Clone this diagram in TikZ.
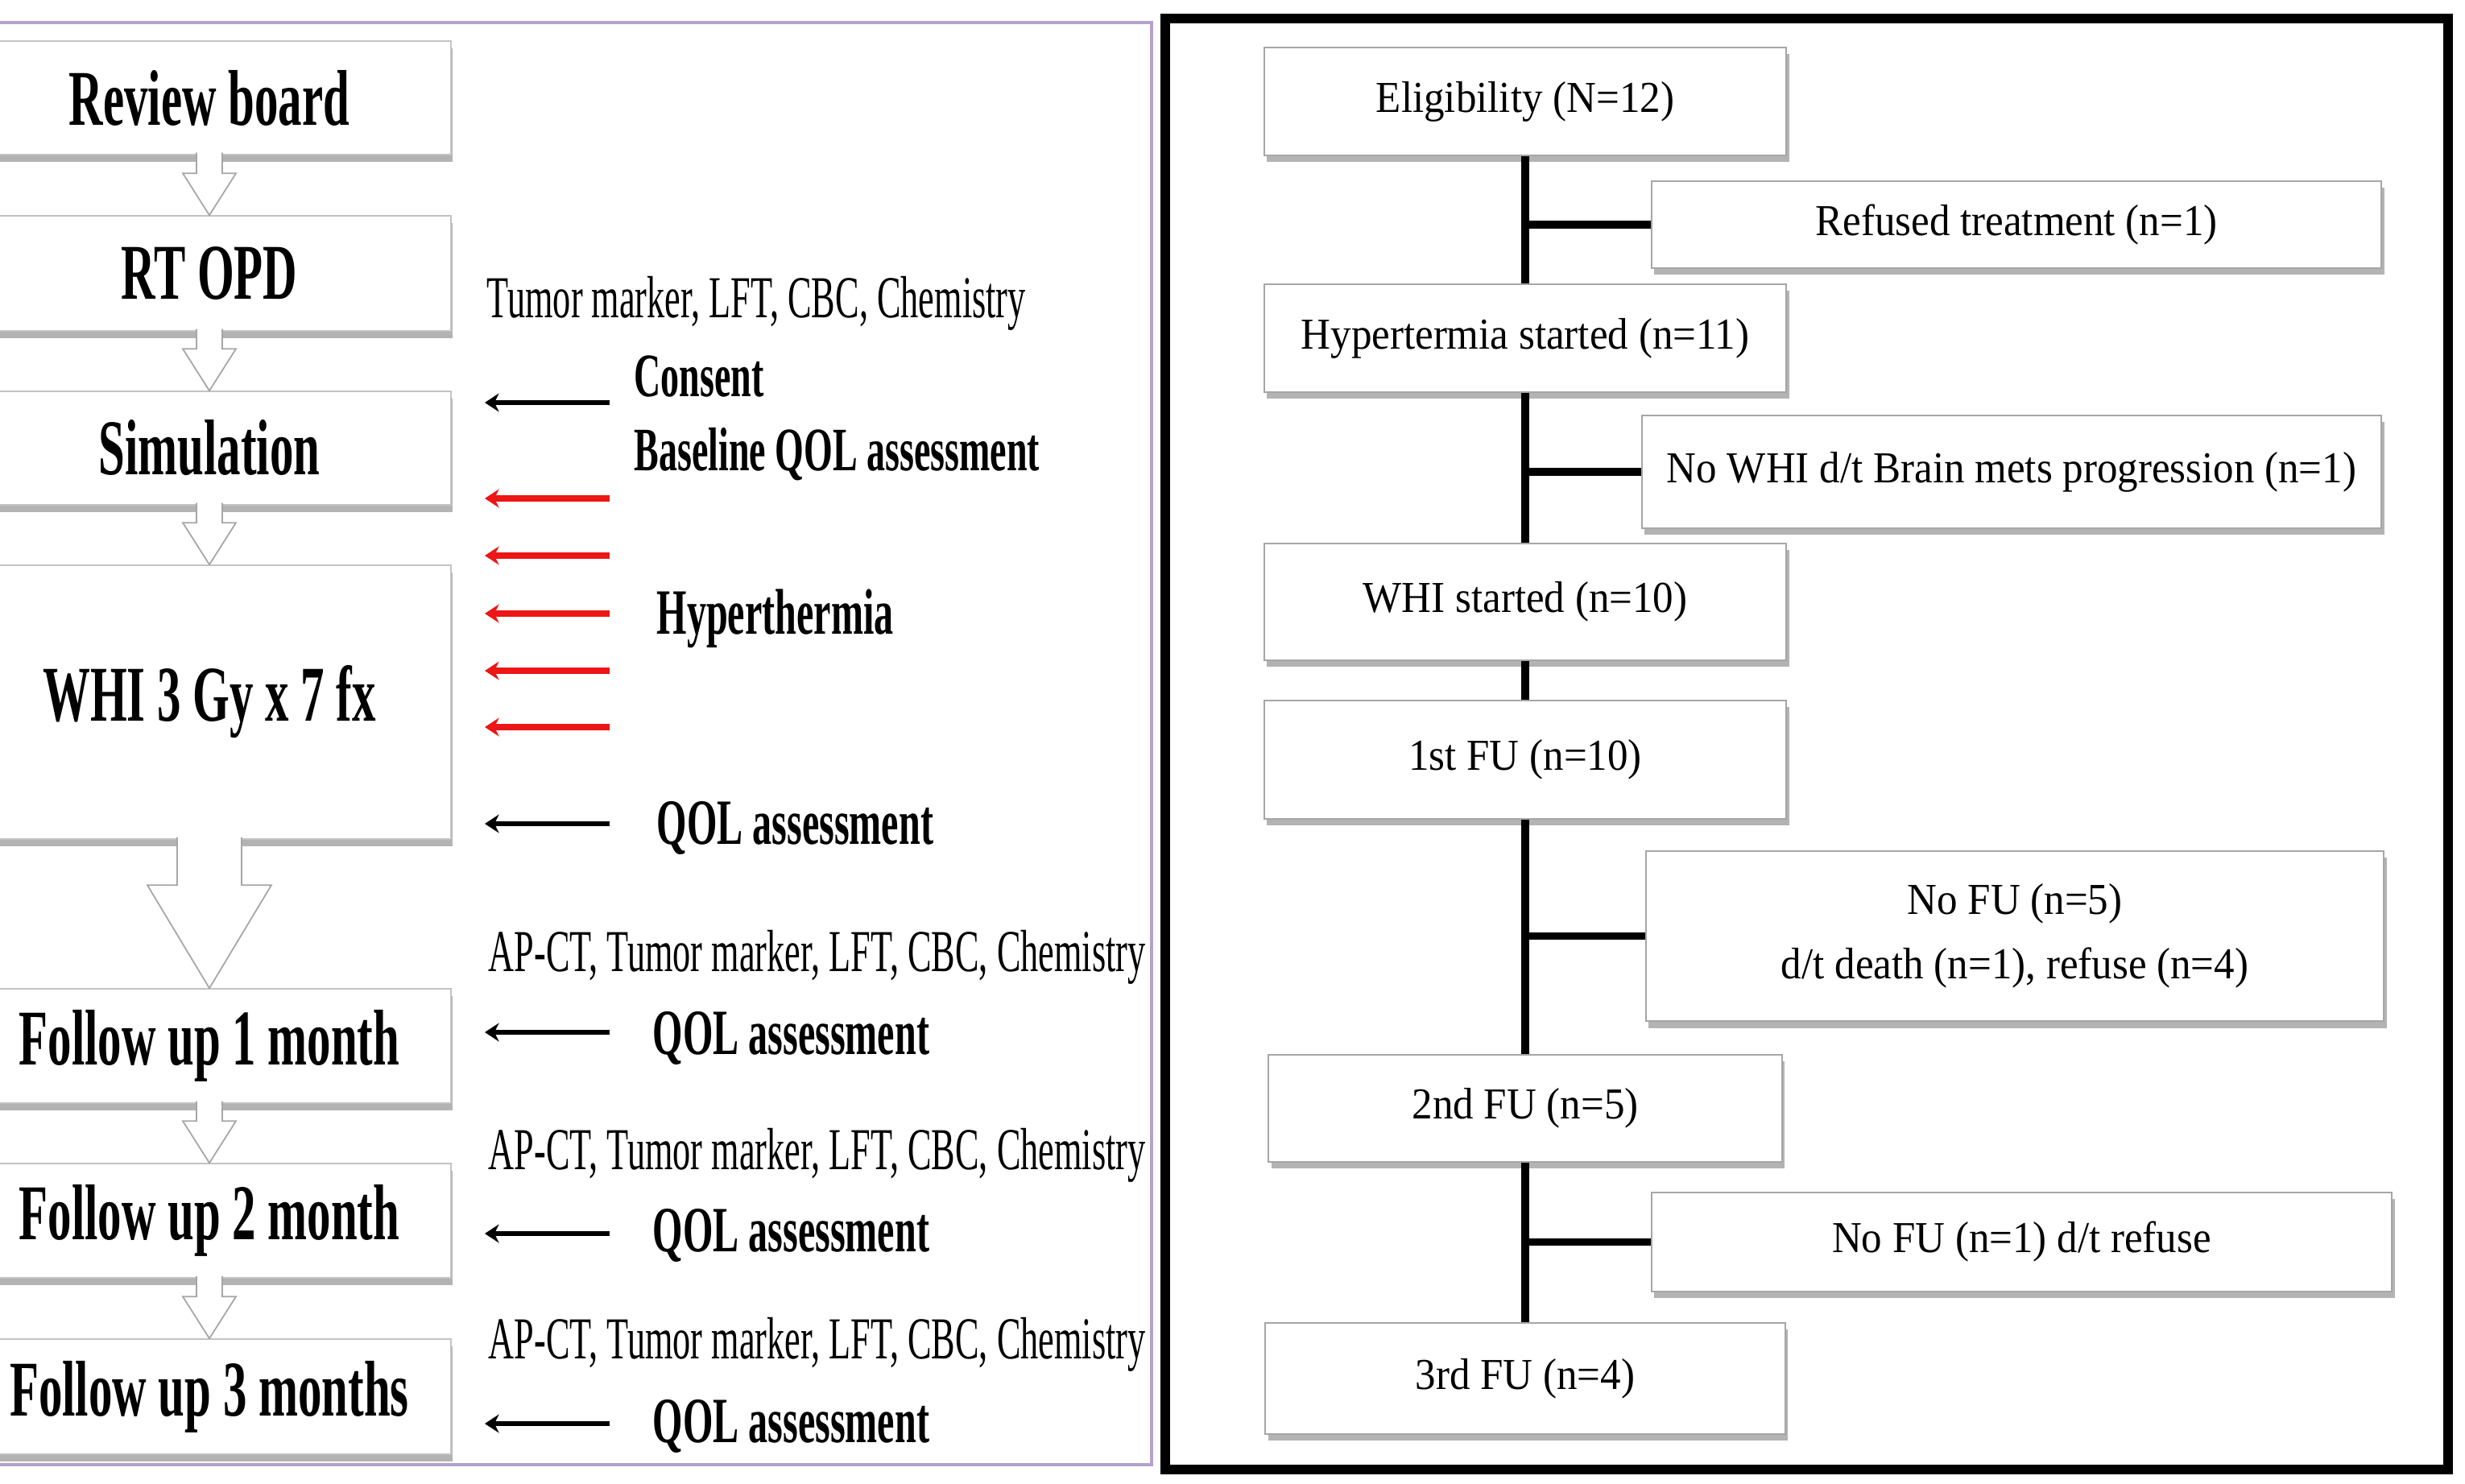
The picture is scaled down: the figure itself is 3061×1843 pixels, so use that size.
\documentclass[tikz,border=0pt]{standalone}
\usepackage{fontspec}
\setmainfont{Liberation Serif}
\newfontfamily\schemafont{Liberation Serif}[FakeStretch=0.6]
\newfontfamily\flowfont{Liberation Serif}[FakeStretch=0.93]
\usetikzlibrary{positioning,arrows.meta,calc,shadows}

\definecolor{framepurple}{RGB}{178,162,204}
\definecolor{boxline}{RGB}{195,195,195}
\definecolor{hotred}{RGB}{236,22,22}

\tikzset{
  stepbox/.style={draw=boxline, line width=0.4pt, fill=white, minimum width=6cm, inner sep=0pt,
    drop shadow={shadow xshift=0.6pt, shadow yshift=-2.6pt, opacity=0.6},
    font=\schemafont\bfseries\fontsize{27.9pt}{30pt}\selectfont},
  hollow/.style={draw=gray!70, fill=white, line width=0.5pt, line join=miter},
  note/.style={anchor=base west, inner sep=0pt, font=\schemafont\fontsize{21pt}{24pt}\selectfont},
  cue/.style={anchor=base west, inner sep=0pt, font=\schemafont\bfseries\fontsize{22.8pt}{25pt}\selectfont},
  smallcue/.style={cue, font=\schemafont\bfseries\fontsize{21.8pt}{25pt}\selectfont},
  flowbox/.style={draw=gray!70, line width=0.6pt, fill=white, align=center, inner sep=0pt,
    drop shadow={shadow xshift=1pt, shadow yshift=-2.4pt, opacity=0.6},
    font=\flowfont\fontsize{15.6pt}{22.8pt}\selectfont},
  trunk/.style={line width=2.6pt},
  pointer/.style={line width=1.6pt, -{Stealth[length=5pt,width=6.5pt]}},
  heat/.style={pointer, draw=hotred, line width=2.1pt},
}

% hollow down arrow: from, to, shaft half width, head half width, head length
\newcommand{\blockarrow}[5]{%
  \draw[hollow] ($(#1.south)+(-#3,-3)$) -- ($(#2.north)+(-#3,-#5)$) -- ($(#2.north)+(-#4,-#5)$)
    -- (#2.north) -- ($(#2.north)+(#4,-#5)$) -- ($(#2.north)+(#3,-#5)$) -- ($(#1.south)+(#3,-3)$);}

\begin{document}
\begin{tikzpicture}[x=0.01cm,y=-0.01cm]
\useasboundingbox (0,0) rectangle (3061,1843);
\clip (0,0) rectangle (3061,1843);

% study schema
\draw[framepurple, line width=1.2pt] (-10,28) rectangle (1430,1819);

\node[stepbox, minimum height=1.41cm] (board) at (260,121.5) {Review board};
\node[stepbox, minimum height=1.43cm] (opd) at (260,339.5) {RT OPD};
\node[stepbox, minimum height=1.41cm] (sim) at (260,556.5) {Simulation};
\node[stepbox, minimum height=3.40cm] (whi) at (260,872) {WHI 3 Gy x 7 fx};
\node[stepbox, minimum height=1.42cm] (fu1) at (260,1299) {Follow up 1 month};
\node[stepbox, minimum height=1.42cm] (fu2) at (260,1516) {Follow up 2 month};
\node[stepbox, minimum height=1.43cm] (fu3) at (260,1734.5) {Follow up 3 months};

\blockarrow{board}{opd}{16}{33}{52}
\blockarrow{opd}{sim}{16}{33}{52}
\blockarrow{sim}{whi}{16}{33}{52}
\blockarrow{whi}{fu1}{40}{77}{128}
\blockarrow{fu1}{fu2}{16}{33}{52}
\blockarrow{fu2}{fu3}{16}{33}{52}

\foreach \y in {500,1023,1282,1532,1768} {
  \coordinate (tail) at (757,\y);
  \coordinate (tip) at (602,\y);
  \draw[pointer] (tail) -- (tip);
}
\foreach \y in {619,690,762,833,903} {
  \coordinate (tail) at (757,\y);
  \coordinate (tip) at (602,\y);
  \draw[heat] (tail) -- (tip);
}

\node[note] (labs0) at (604,395) {Tumor marker, LFT, CBC, Chemistry};
\node[smallcue] (consent) at (787,493) {Consent};
\node[smallcue] (baseqol) at (787,585) {Baseline QOL assessment};
\node[cue] (hyperth) at (815,787) {Hyperthermia};
\node[cue] (qol0) at (815,1048) {QOL assessment};
\node[note] (labs1) at (606,1206) {AP-CT, Tumor marker, LFT, CBC, Chemistry};
\node[cue] (qol1) at (810,1309) {QOL assessment};
\node[note] (labs2) at (606,1452) {AP-CT, Tumor marker, LFT, CBC, Chemistry};
\node[cue] (qol2) at (810,1554) {QOL assessment};
\node[note] (labs3) at (606,1687) {AP-CT, Tumor marker, LFT, CBC, Chemistry};
\node[cue] (qol3) at (810,1791) {QOL assessment};

% patient flow
\draw[line width=3.2pt] (1447,23) rectangle (3040,1825);

\node[flowbox, minimum width=6.48cm, minimum height=1.34cm] (elig) at (1894,126) {Eligibility (N=12)};
\node[flowbox, minimum width=9.06cm, minimum height=1.08cm] (refused) at (2504,279) {Refused treatment (n=1)};
\node[flowbox, minimum width=6.48cm, minimum height=1.34cm] (hyp) at (1894,420) {Hypertermia started (n=11)};
\node[flowbox, minimum width=9.18cm, minimum height=1.40cm] (nowhi) at (2498,586) {No WHI d/t Brain mets progression (n=1)};
\node[flowbox, minimum width=6.48cm, minimum height=1.45cm] (whist) at (1894,747.5) {WHI started (n=10)};
\node[flowbox, minimum width=6.48cm, minimum height=1.47cm] (first) at (1894,943.5) {1st FU (n=10)};
\node[flowbox, minimum width=9.16cm, minimum height=2.11cm] (nofu5) at (2502,1162.5) {No FU (n=5)\\d/t death (n=1), refuse (n=4)};
\node[flowbox, minimum width=6.37cm, minimum height=1.33cm] (second) at (1894,1376.5) {2nd FU (n=5)};
\node[flowbox, minimum width=9.19cm, minimum height=1.23cm] (nofu1) at (2510.5,1542.5) {No FU (n=1) d/t refuse};
\node[flowbox, minimum width=6.45cm, minimum height=1.38cm] (third) at (1894,1712) {3rd FU (n=4)};

\draw[trunk] (elig.south) -- (hyp.north);
\draw[trunk] (hyp.south) -- (whist.north);
\draw[trunk] (whist.south) -- (first.north);
\draw[trunk] (first.south) -- (second.north);
\draw[trunk] (second.south) -- (third.north);
\draw[trunk] (refused.west) -- (refused.west -| elig.south);
\draw[trunk] (nowhi.west) -- (nowhi.west -| hyp.south);
\draw[trunk] (nofu5.west) -- (nofu5.west -| first.south);
\draw[trunk] (nofu1.west) -- (nofu1.west -| second.south);
\end{tikzpicture}
\end{document}
